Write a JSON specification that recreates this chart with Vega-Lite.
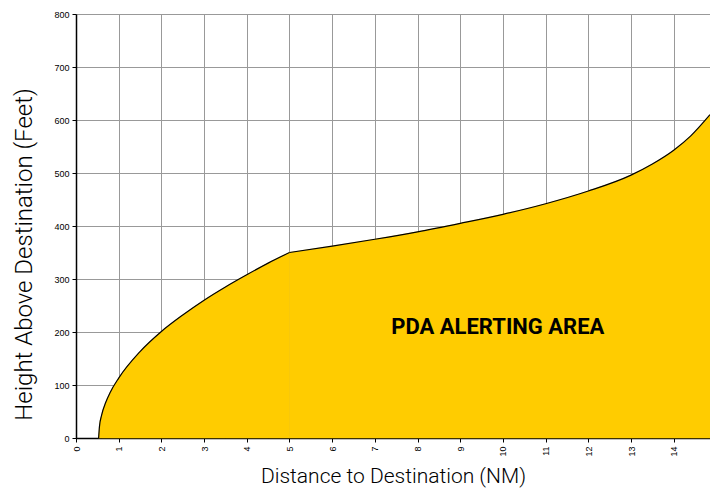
{
  "$schema": "https://vega.github.io/schema/vega-lite/v6.json",
  "width": 634,
  "height": 424,
  "autosize": {"type": "none"},
  "padding": {"left": 76, "top": 14, "right": 0, "bottom": 57},
  "background": "white",
  "config": {
    "view": {"stroke": null},
    "axis": {
      "gridColor": "#999999",
      "gridOpacity": 1,
      "gridWidth": 1,
      "domainColor": "black",
      "domainWidth": 1.5,
      "tickColor": "black",
      "tickSize": 4,
      "labelFont": "Liberation Sans",
      "labelFontSize": 9,
      "labelColor": "black",
      "titleFont": "Roboto",
      "titleFontWeight": 300,
      "titleColor": "black"
    }
  },
  "datasets": {
    "curve": [
      {"seg": "a", "d": 0.53, "h": 0},
      {"seg": "a", "d": 0.55, "h": 22},
      {"seg": "a", "d": 0.6, "h": 43},
      {"seg": "a", "d": 0.7, "h": 68},
      {"seg": "a", "d": 0.8, "h": 86},
      {"seg": "a", "d": 1.0, "h": 113},
      {"seg": "a", "d": 1.5, "h": 163},
      {"seg": "a", "d": 2.0, "h": 201},
      {"seg": "a", "d": 2.5, "h": 232},
      {"seg": "a", "d": 3.0, "h": 260},
      {"seg": "a", "d": 3.5, "h": 285},
      {"seg": "a", "d": 4.0, "h": 308},
      {"seg": "a", "d": 4.5, "h": 330},
      {"seg": "a", "d": 5.0, "h": 350},
      {"seg": "b", "d": 5.0, "h": 350},
      {"seg": "b", "d": 6.0, "h": 362},
      {"seg": "b", "d": 7.0, "h": 375},
      {"seg": "b", "d": 8.0, "h": 389},
      {"seg": "b", "d": 9.0, "h": 405},
      {"seg": "b", "d": 10.0, "h": 422},
      {"seg": "b", "d": 11.0, "h": 442},
      {"seg": "b", "d": 12.0, "h": 466},
      {"seg": "b", "d": 13.0, "h": 496},
      {"seg": "b", "d": 13.5, "h": 517},
      {"seg": "b", "d": 14.0, "h": 543},
      {"seg": "b", "d": 14.4, "h": 570},
      {"seg": "b", "d": 14.85, "h": 610}
    ],
    "label": [{"d": 9.88, "h": 209, "t": "PDA ALERTING AREA"}]
  },
  "layer": [
    {
      "data": {"name": "curve"},
      "mark": {"type": "area", "color": "#FFCC00", "opacity": 1, "fillOpacity": 1, "strokeWidth": 0.5, "stroke": "#FFCC00", "interpolate": "monotone", "line": {"color": "black", "strokeWidth": 1.2}},
      "encoding": {
        "detail": {"field": "seg"},
        "x": {
          "field": "d", "type": "quantitative",
          "scale": {"domain": [0, 14.85], "nice": false, "zero": false},
          "axis": {"values": [0,1,2,3,4,5,6,7,8,9,10,11,12,13,14], "labelAngle": -90, "labelAlign": "right", "labelBaseline": "middle", "labelPadding": 4, "title": "Distance to Destination (NM)", "titleFontSize": 21, "titlePadding": 9, "grid": true}
        },
        "y": {
          "field": "h", "type": "quantitative", "stack": null,
          "scale": {"domain": [0, 800], "nice": false},
          "axis": {"values": [0,100,200,300,400,500,600,700,800], "title": "Height Above Destination (Feet)", "titleFontSize": 24, "titleAngle": -90, "titleX": -45, "titleY": 240, "titleAlign": "center", "titleBaseline": "alphabetic", "labelPadding": 3, "grid": true}
        }
      }
    },
    {
      "data": {"name": "label"},
      "mark": {"type": "text", "font": "Roboto", "fontWeight": "bold", "fontSize": 22, "color": "black", "align": "center", "baseline": "middle"},
      "encoding": {
        "x": {"field": "d", "type": "quantitative"},
        "y": {"field": "h", "type": "quantitative"},
        "text": {"field": "t"}
      }
    }
  ]
}
